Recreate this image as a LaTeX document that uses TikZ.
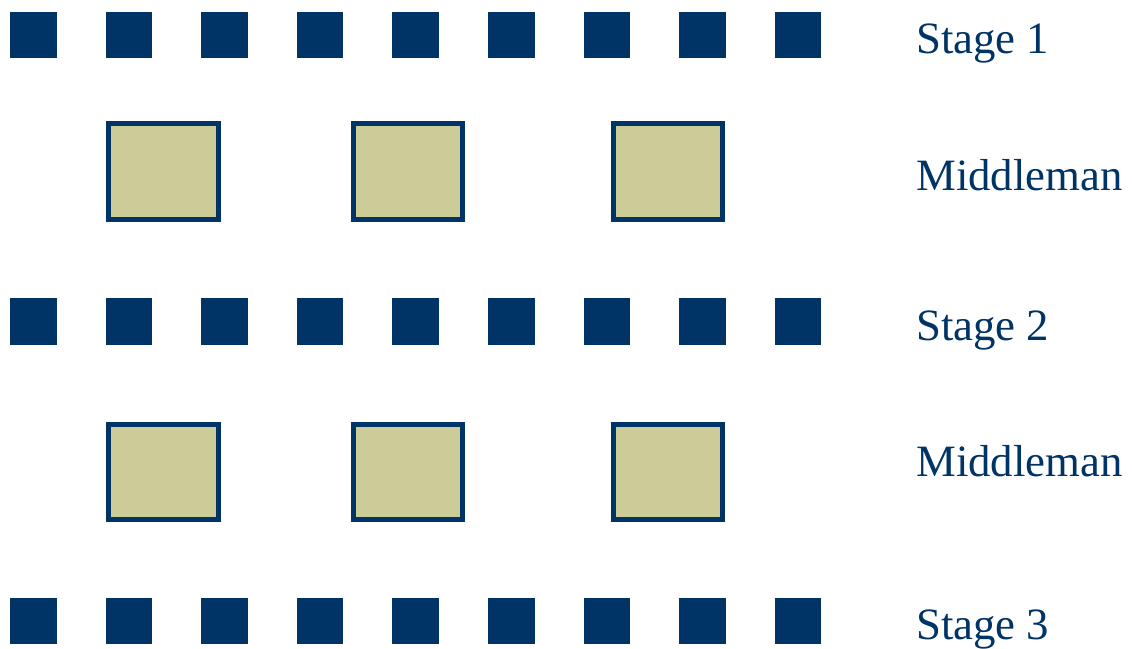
\documentclass[tikz,border=0pt]{standalone}
\usepackage{fontspec}
\setmainfont{Liberation Serif}
\usepackage{tikz}
\usepackage{xcolor}
\usetikzlibrary{positioning}
\definecolor{stageBlue}{HTML}{003366}
\definecolor{midKhaki} {HTML}{CCCC99}

\begin{document}
\begin{tikzpicture}[x=1pt, y=-1pt,
    node/.style={rectangle, fill=stageBlue, draw=none, inner sep=0pt,
                 minimum width=46.5pt, minimum height=46.5pt},
    midbox/.style={rectangle, fill=midKhaki, draw=stageBlue, line width=5pt,
                   inner sep=0pt, minimum width=109.5pt, minimum height=95.4pt},
    lbl/.style={anchor=base west, inner sep=0pt, text=stageBlue,
                font=\fontsize{44.8}{53}\selectfont}]
  \useasboundingbox (0,0) rectangle (1132,648);
  % stage rows
  \foreach \row/\y in {1/35, 2/321.5, 3/621}{
    \foreach \i in {1,...,9}{
      \node[node] (s\row-\i) at ({33.25 + (\i-1)*95.6}, \y) {};
    }
    \node[lbl] (stage\row) at (916, \y + 18.5) {Stage \row};
  }
  % middleman rows
  \foreach \row/\y/\b in {1/171.5/190, 2/471.8/476.7}{
    \foreach \i/\x in {1/163.25, 2/408, 3/668}{
      \node[midbox] (m\row-\i) at (\x, \y) {};
    }
    \node[lbl] (mid\row) at (916, \b) {Middleman};
  }
\end{tikzpicture}
\end{document}
